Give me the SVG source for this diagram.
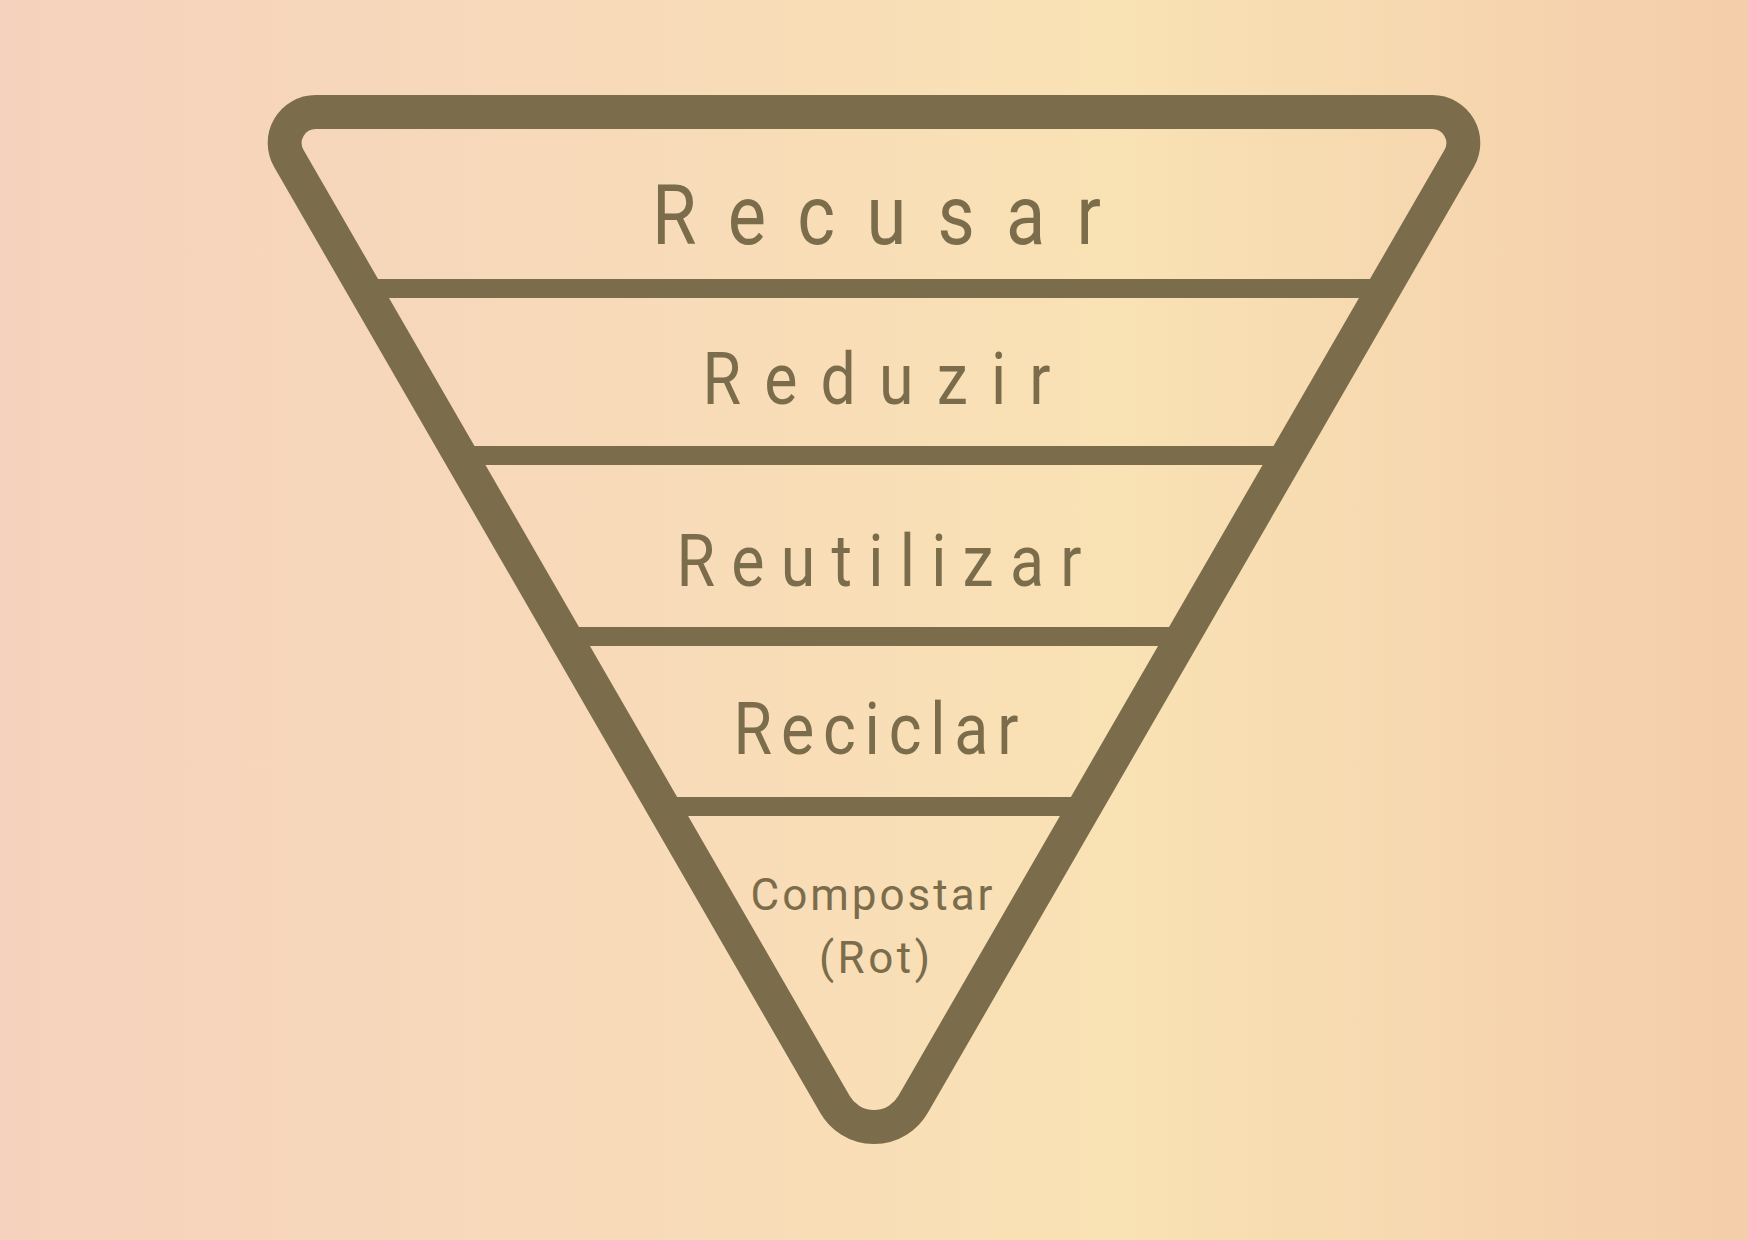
<svg xmlns="http://www.w3.org/2000/svg" width="1748" height="1240" viewBox="0 0 1748 1240">
  <defs>
    <linearGradient id="bg" x1="0" y1="0" x2="1" y2="0">
      <stop offset="0" stop-color="#f5d2bd"/>
      <stop offset="0.35" stop-color="#f8dab9"/>
      <stop offset="0.64" stop-color="#f9e2b4"/>
      <stop offset="1" stop-color="#f4cdab"/>
    </linearGradient>
    <style>
      .outline { fill: none; stroke: #7b6d4b; stroke-width: 34; stroke-linejoin: round; }
      .bar { stroke: #7b6d4b; stroke-width: 19; stroke-linecap: butt; }
      .lbl { fill: #7b6d4b; font-family: Roboto, "Liberation Sans", sans-serif; font-weight: 400; text-anchor: middle; }
    </style>
  </defs>
  <rect x="0" y="0" width="1748" height="1240" fill="url(#bg)"/>
  <g id="funnel">
    <path class="outline" d="M315.7,112 L1432.3,112 A31,31 0 0 1 1459.15,158.5 L912.97,1104.5 A45,45 0 0 1 835.03,1104.5 L288.85,158.5 A31,31 0 0 1 315.7,112 Z"/>
  </g>
  <g id="connectors">
    <line class="bar" x1="360" y1="288.5" x2="1388" y2="288.5"/>
    <line class="bar" x1="456" y1="455.5" x2="1292" y2="455.5"/>
    <line class="bar" x1="560" y1="636.5" x2="1188" y2="636.5"/>
    <line class="bar" x1="659" y1="806.5" x2="1089" y2="806.5"/>
  </g>
  <g id="recusar">
    <text class="lbl" transform="scale(0.87,1)" x="1007.5" y="244" font-size="83" textLength="516" lengthAdjust="spacing">Recusar</text>
  </g>
  <g id="reduzir">
    <text class="lbl" transform="scale(0.87,1)" x="1007.5" y="404" font-size="72" textLength="400" lengthAdjust="spacing">Reduzir</text>
  </g>
  <g id="reutilizar">
    <text class="lbl" transform="scale(0.87,1)" x="1010.3" y="586" font-size="72" textLength="465.5" lengthAdjust="spacing">Reutilizar</text>
  </g>
  <g id="reciclar">
    <text class="lbl" transform="scale(0.87,1)" x="1006.9" y="754" font-size="72" textLength="327.6" lengthAdjust="spacing">Reciclar</text>
  </g>
  <g id="compostar">
    <text class="lbl" x="871.5" y="910" font-size="44" textLength="242" lengthAdjust="spacing">Compostar</text>
    <text class="lbl" x="874.5" y="973" font-size="44" textLength="111" lengthAdjust="spacing">(Rot)</text>
  </g>
</svg>
